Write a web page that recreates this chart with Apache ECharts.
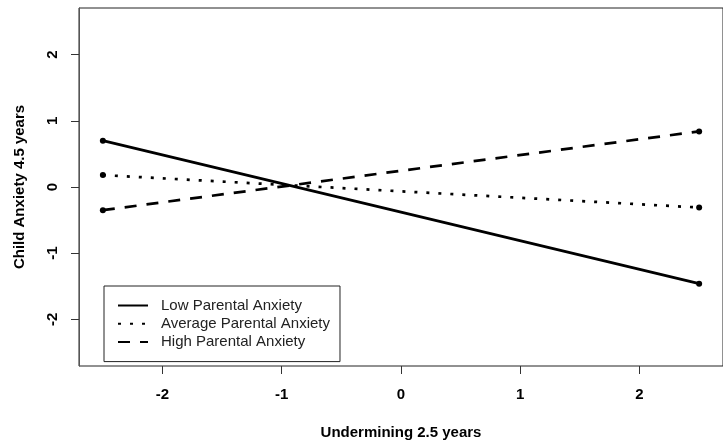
<!DOCTYPE html>
<html>
<head>
<meta charset="utf-8">
<script src="https://cdn.jsdelivr.net/npm/echarts@6/dist/echarts.min.js"></script>
<style>html,body{margin:0;padding:0;background:#fff}#c{width:723px;height:445px}</style>
</head>
<body>
<div id="c"></div>
<script>
var seriesNames = ['Low Parental Anxiety', 'Average Parental Anxiety', 'High Parental Anxiety'];
var xPoints = [-2.5, 2.5];
var lowValues = [0.70, -1.46];
var avgValues = [0.18, -0.31];
var highValues = [-0.35, 0.84];
var tickValues = [-2, -1, 0, 1, 2];

function pairs(ys) { return xPoints.map(function (x, i) { return [x, ys[i]]; }); }

var FONT = 'Liberation Sans, Arial, sans-serif';
var lineTypes = ['solid', [3, 9], [12, 10]];
var allValues = [lowValues, avgValues, highValues];

var chart = echarts.init(document.getElementById('c'), null, {renderer: 'canvas'});
chart.setOption({
  animation: false,
  grid: {left: 79, top: 8, right: -8.5, bottom: 79, show: true, borderColor: '#222', borderWidth: 1, backgroundColor: 'transparent'},
  xAxis: {
    type: 'value', min: -2.7, max: 2.7,
    name: 'Undermining 2.5 years', nameLocation: 'middle', nameGap: 59,
    nameTextStyle: {fontFamily: FONT, fontWeight: 'bold', fontSize: 15, color: '#000'},
    axisLine: {show: false, onZero: false},
    axisTick: {show: true, inside: false, length: 8, lineStyle: {color: '#333'}, customValues: tickValues},
    axisLabel: {fontFamily: FONT, fontWeight: 'bold', fontSize: 15, color: '#000', margin: 21, customValues: tickValues},
    splitLine: {show: false}
  },
  yAxis: {
    type: 'value', min: -2.704, max: 2.704,
    name: 'Child Anxiety 4.5 years', nameLocation: 'middle', nameGap: 52, nameRotate: 90,
    nameTextStyle: {fontFamily: FONT, fontWeight: 'bold', fontSize: 15, color: '#000'},
    axisLine: {show: true, onZero: false, lineStyle: {color: '#555'}},
    axisTick: {show: true, inside: false, length: 8, lineStyle: {color: '#333'}, customValues: tickValues},
    axisLabel: {fontFamily: FONT, fontWeight: 'bold', fontSize: 15, color: '#000', margin: 19, rotate: 90, customValues: tickValues},
    splitLine: {show: false}
  },
  legend: {
    orient: 'vertical', left: 104, top: 286,
    data: seriesNames,
    borderColor: '#222', borderWidth: 1, borderRadius: 0,
    padding: [12, 10, 12, 13],
    itemWidth: 30, itemHeight: 15, itemGap: 3.3,
    itemStyle: {opacity: 0},
    textStyle: {fontFamily: FONT, fontSize: 15, color: '#222', padding: [0, 0, 0, 8]}
  },
  series: seriesNames.map(function (n, i) {
    return {
      name: n, type: 'line', data: pairs(allValues[i]),
      symbol: 'circle', symbolSize: 6,
      itemStyle: {color: '#000'},
      lineStyle: {color: '#000', width: 2.7, type: lineTypes[i]}
    };
  })
});
</script>
</body>
</html>
